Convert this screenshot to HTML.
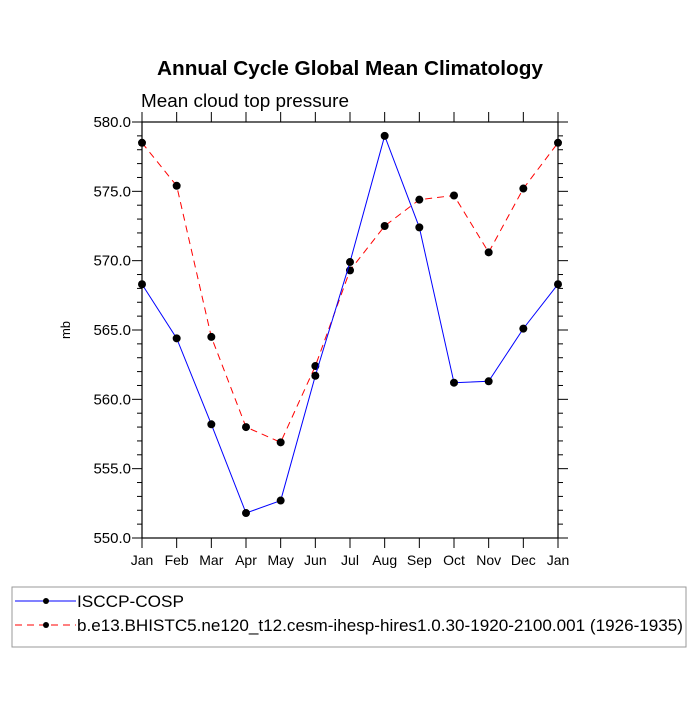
<!DOCTYPE html>
<html><head><meta charset="utf-8"><style>body{margin:0;background:#fff}svg{font-family:"Liberation Sans",sans-serif}</style></head>
<body>
<svg id="chart" width="700" height="700">
<text x="157" y="75" textLength="386" lengthAdjust="spacingAndGlyphs" font-size="20" font-weight="bold">Annual Cycle Global Mean Climatology</text>
<text x="141" y="107" textLength="208" lengthAdjust="spacingAndGlyphs" font-size="18">Mean cloud top pressure</text>
<text transform="translate(70,330) rotate(-90)" text-anchor="middle" font-size="13">mb</text>
<g id="axes"></g><g id="series"></g>
<rect x="12" y="587" width="674" height="60" fill="none" stroke="#999"/>
<g>
<line x1="15" y1="601" x2="76" y2="601" stroke="#00f" stroke-width="1"/><circle cx="46" cy="601" r="3" fill="#000"/>
<text x="77" y="607" font-size="17" textLength="107" lengthAdjust="spacingAndGlyphs">ISCCP-COSP</text></g>
<g>
<line x1="15" y1="625" x2="76" y2="625" stroke="#f00" stroke-dasharray="7,5"/><circle cx="46" cy="625" r="3" fill="#000"/>
<text x="77" y="631" font-size="17" textLength="606" lengthAdjust="spacingAndGlyphs">b.e13.BHISTC5.ne120_t12.cesm-ihesp-hires1.0.30-1920-2100.001 (1926-1935)</text></g>
</svg>
<script>
const months=["Jan","Feb","Mar","Apr","May","Jun","Jul","Aug","Sep","Oct","Nov","Dec","Jan"];
const isccp=[568.3,564.4,558.2,551.8,552.7,561.7,569.9,579.0,572.4,561.2,561.3,565.1,568.3];
const model=[578.5,575.4,564.5,558.0,556.9,562.4,569.3,572.5,574.4,574.7,570.6,575.2,578.5];
const yTicks=[550,555,560,565,570,575,580];
const NS="http://www.w3.org/2000/svg";
const L=142,R=558,T=122,B=538,ymin=550,ymax=580;
const xs=i=>L+(R-L)*i/(months.length-1);
const ys=v=>B-(B-T)*(v-ymin)/(ymax-ymin);
function mk(t,a,p){const e=document.createElementNS(NS,t);for(const k in a)e.setAttribute(k,a[k]);p.appendChild(e);return e;}
const ax=document.getElementById('axes'),sr=document.getElementById('series');
const fr=mk('rect',{x:L,y:T,width:R-L,height:B-T,fill:'none',stroke:'#000','stroke-width':1.2},ax);


months.forEach((m,i)=>{const x=xs(i);
mk('line',{x1:x,y1:B,x2:x,y2:B+10,stroke:'#000'},ax);
mk('line',{x1:x,y1:T,x2:x,y2:T-10,stroke:'#000'},ax);
const t=mk('text',{x:x,y:B+27,'text-anchor':'middle','font-size':14},ax);t.textContent=m;

});
for(let v=ymin;v<=ymax;v++){const y=ys(v),maj=(v%5===0),len=maj?10:5;
mk('line',{x1:L,y1:y,x2:L-len,y2:y,stroke:'#000'},ax);
mk('line',{x1:R,y1:y,x2:R+len,y2:y,stroke:'#000'},ax);}
yTicks.forEach(v=>{const t=mk('text',{x:L-11,y:ys(v)+5,'text-anchor':'end','font-size':15},ax);t.textContent=v.toFixed(1);

});
function series(d,col,dash,name){
const p=mk('polyline',{points:d.map((v,i)=>xs(i)+','+ys(v)).join(' '),fill:'none',stroke:col,'stroke-width':1,'stroke-dasharray':dash},sr);


d.forEach((v,i)=>{const c=mk('circle',{cx:xs(i),cy:ys(v),r:4,fill:'#000'},sr);

});}
series(model,'#f00','7,5','model');
series(isccp,'#00f','none','isccp');
</script>
</body></html>
